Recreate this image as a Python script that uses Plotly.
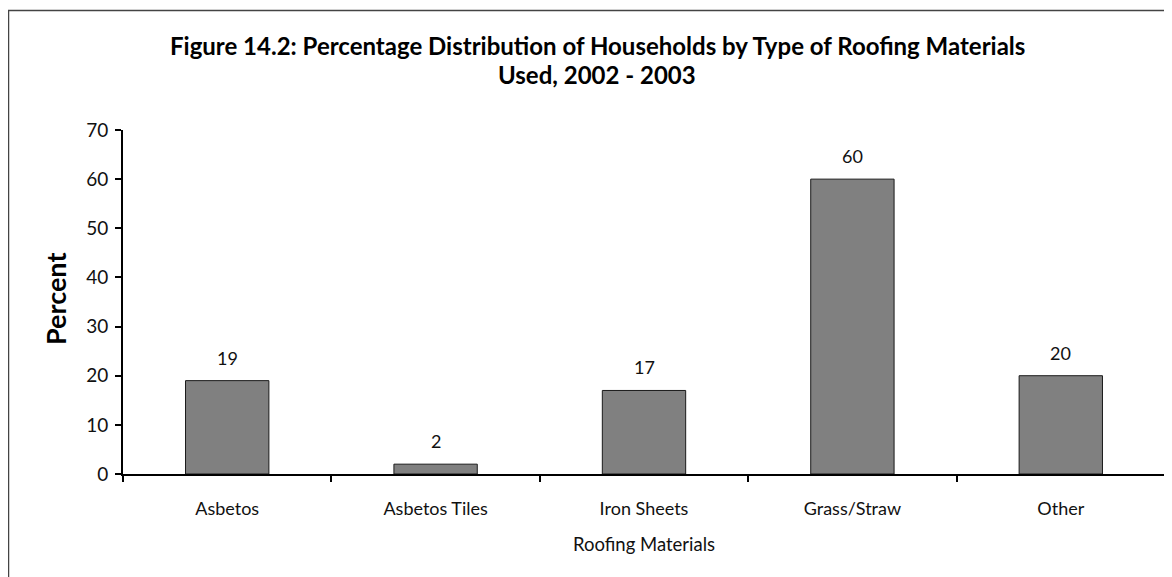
import plotly.graph_objects as go

categories = ["Asbetos", "Asbetos Tiles", "Iron Sheets", "Grass/Straw", "Other"]
values = [19, 2, 17, 60, 20]
y_ticks = [0, 10, 20, 30, 40, 50, 60, 70]

W, H = 1164, 569
L, R, T, B = 115, 7, 122, 103
PW, PH = W - L - R, H - T - B

def px(x):
    return (x - L) / PW

def py(y):
    return (H - B - y) / PH

FONT = "Lato"

fig = go.Figure()
fig.add_trace(go.Bar(
    x=categories, y=values,
    marker=dict(color="#808080", line=dict(color="#1a1a1a", width=1)),
    hoverinfo="x+y",
))

for c, v in zip(categories, values):
    fig.add_annotation(x=c, y=v, xref="x", yref="y", text=str(v), showarrow=False,
                       yanchor="middle", yshift=23, font=dict(family=FONT, size=18, color="#111"))

fig.add_annotation(x=px(589), y=py(37), xref="paper", yref="paper",
                   text="<b>Figure 14.2: Percentage Distribution of Households by Type of Roofing Materials</b>",
                   showarrow=False, xanchor="center", yanchor="middle",
                   font=dict(family=FONT, size=24, color="#000"))
fig.add_annotation(x=px(589), y=py(67), xref="paper", yref="paper",
                   text="<b>Used, 2002 - 2003</b>",
                   showarrow=False, xanchor="center", yanchor="middle",
                   font=dict(family=FONT, size=24, color="#000"))
fig.add_annotation(x=px(47), y=py(291), xref="paper", yref="paper",
                   text="<b>Percent</b>", textangle=-90,
                   showarrow=False, xanchor="center", yanchor="middle",
                   font=dict(family=FONT, size=27, color="#000"))
fig.add_annotation(x=px(636), y=py(536), xref="paper", yref="paper",
                   text="Roofing Materials",
                   showarrow=False, xanchor="center", yanchor="middle",
                   font=dict(family=FONT, size=18.5, color="#111"))

fig.add_shape(type="rect", xref="paper", yref="paper",
              x0=px(0.5), x1=px(1300), y0=py(2.5), y1=py(700),
              line=dict(color="#444", width=1.5), fillcolor="rgba(0,0,0,0)", layer="below")

fig.update_layout(
    width=W, height=H,
    margin=dict(l=L, r=R, t=T, b=B),
    paper_bgcolor="white", plot_bgcolor="white",
    showlegend=False, bargap=0.6,
    font=dict(family=FONT, size=18, color="#111"),
)
fig.update_xaxes(
    range=[-0.5, 4.5], showline=True, linecolor="black", linewidth=2,
    ticks="outside", tickson="boundaries", ticklen=6, tickwidth=2, tickcolor="black",
    showgrid=False, zeroline=False, tickfont=dict(family=FONT, size=18, color="#111"),
    ticklabelstandoff=17,
)
fig.update_yaxes(
    range=[0, 70], tickvals=y_ticks, showline=True, linecolor="black", linewidth=2,
    ticks="outside", ticklen=6, tickwidth=2, tickcolor="black",
    showgrid=False, zeroline=False, tickfont=dict(family=FONT, size=19, color="#111"),
    ticklabelstandoff=3,
)

fig.write_html("out.html")
